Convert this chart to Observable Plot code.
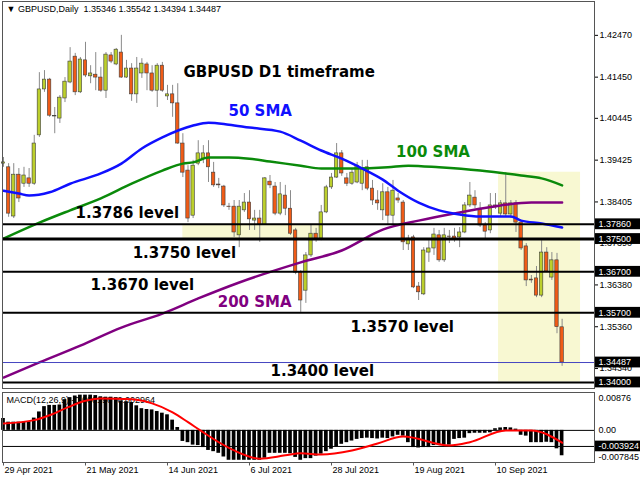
<!DOCTYPE html>
<html><head><meta charset="utf-8">
<script src="https://cdn.jsdelivr.net/npm/d3@7"></script>
<script src="https://cdn.jsdelivr.net/npm/@observablehq/plot@0.6"></script>
<style>
body{margin:0;background:#fff;}
#wrap{position:relative;width:640px;height:480px;overflow:hidden;background:#fff;}
#main{position:absolute;left:0;top:0;}
#macd{position:absolute;left:0;top:389px;}
</style></head><body><div id="wrap"><div id="main"></div><div id="macd"></div></div>
<script>
// ---- data ----
const tickIndex = [0,16,32,48,64,80,96];
const tickLabels = ["29 Apr 2021","21 May 2021","14 Jun 2021","6 Jul 2021","28 Jul 2021","19 Aug 2021","10 Sep 2021"];

const open = [1.3934,1.3925,1.3805,1.3907,1.3885,1.3898,1.3885,1.4003,1.4115,1.4139,
1.4049,1.4044,1.4093,1.4132,1.4195,1.4108,1.4186,1.4147,1.4151,1.4144,
1.4112,1.4198,1.4176,1.4205,1.4144,1.4166,1.4103,1.4154,1.4176,1.4154,
1.4112,1.4173,1.4098,1.4103,1.4081,1.3983,1.3917,1.3807,1.3934,1.3946,
1.3959,1.3912,1.3883,1.3878,1.3829,1.3829,1.3759,1.3820,1.3839,1.3795,
1.3800,1.3785,1.3890,1.3878,1.3812,1.3856,1.3824,1.3771,1.3668,1.3624,
1.3710,1.3763,1.3751,1.3815,1.3876,1.3900,1.3959,1.3898,1.3885,1.3888,
1.3885,1.3925,1.3873,1.3844,1.3820,1.3864,1.3807,1.3849,1.3839,1.3737,
1.3754,1.3634,1.3615,1.3717,1.3727,1.3759,1.3698,1.3756,1.3756,1.3754,
1.3766,1.3832,1.3851,1.3824,1.3783,1.3771,1.3827,1.3812,1.3837,1.3810,
1.3837,1.3790,1.3732,1.3651,1.3654,1.3612,1.3717,1.3656,1.3698,1.35346];
const high = [1.3949,1.3934,1.3934,1.3922,1.3925,1.3922,1.4003,1.4156,1.4161,1.4142,
1.4071,1.4100,1.4144,1.4217,1.4203,1.4193,1.4230,1.4173,1.4205,1.4169,
1.4205,1.4205,1.4215,1.4247,1.4186,1.4178,1.4193,1.4190,1.4181,1.4173,
1.4178,1.4181,1.4125,1.4125,1.4129,1.4007,1.3929,1.3942,1.3990,1.3978,
1.3990,1.3937,1.3898,1.3881,1.3837,1.3844,1.3844,1.3861,1.3868,1.3820,
1.3820,1.3900,1.3905,1.3888,1.3888,1.3881,1.3868,1.3776,1.3673,1.3717,
1.3783,1.3776,1.3832,1.3881,1.3910,1.3983,1.3966,1.3910,1.3922,1.3937,
1.3942,1.3942,1.3893,1.3868,1.3885,1.3876,1.3893,1.3861,1.3844,1.3759,
1.3759,1.3644,1.3729,1.3746,1.3776,1.3771,1.3776,1.3771,1.3776,1.3778,
1.3839,1.3888,1.3868,1.3839,1.3790,1.3861,1.3861,1.3844,1.3912,1.3844,
1.3844,1.3795,1.3739,1.3661,1.3683,1.3746,1.3729,1.3717,1.3715,1.35542];
const low = [1.3925,1.3803,1.3800,1.3839,1.3876,1.3876,1.3881,1.3998,1.4108,1.4047,
1.4007,1.4032,1.4083,1.4129,1.4100,1.4105,1.4144,1.4129,1.4112,1.4108,
1.4093,1.4178,1.4173,1.4142,1.4142,1.4086,1.4081,1.4142,1.4112,1.4108,
1.4071,1.4108,1.4088,1.4047,1.3981,1.3900,1.3790,1.3800,1.3929,1.3934,
1.3888,1.3876,1.3873,1.3827,1.3820,1.3754,1.3729,1.3815,1.3771,1.3771,
1.3742,1.3783,1.3873,1.3807,1.3807,1.3807,1.3759,1.3663,1.3571,1.3593,
1.3705,1.3742,1.3746,1.3812,1.3871,1.3898,1.3903,1.3878,1.3881,1.3885,
1.3868,1.3868,1.3832,1.3820,1.3795,1.3783,1.3783,1.3837,1.3722,1.3722,
1.3629,1.3600,1.3612,1.3693,1.3710,1.3693,1.3693,1.3739,1.3742,1.3729,
1.3763,1.3827,1.3824,1.3778,1.3751,1.3763,1.3822,1.3803,1.3803,1.3800,
1.3766,1.3722,1.3634,1.3642,1.3607,1.3607,1.3668,1.3649,1.3519,1.34394];
const close = [1.3937,1.3812,1.3907,1.3849,1.3905,1.3885,1.3983,1.4115,1.4139,1.4051,
1.4050,1.4095,1.4134,1.4183,1.4108,1.4188,1.4149,1.4154,1.4144,1.4112,
1.4200,1.4183,1.4212,1.4144,1.4166,1.4103,1.4166,1.4178,1.4154,1.4112,
1.4173,1.4112,1.4103,1.4081,1.3983,1.3912,1.3800,1.3929,1.3959,1.3959,
1.3925,1.3881,1.3881,1.3832,1.3828,1.3766,1.3829,1.3839,1.3798,1.3800,
1.3785,1.3898,1.3881,1.3812,1.3859,1.3824,1.3763,1.3668,1.3600,1.3710,
1.3763,1.3751,1.3815,1.3876,1.3900,1.3959,1.3910,1.3885,1.3912,1.3929,
1.3922,1.3873,1.3844,1.3837,1.3864,1.3807,1.3868,1.3844,1.3742,1.3751,
1.3632,1.3620,1.3722,1.3727,1.3761,1.3698,1.3759,1.3755,1.3749,1.3766,
1.3832,1.3856,1.3832,1.3783,1.3768,1.3832,1.3832,1.3837,1.3810,1.3837,
1.3790,1.3727,1.3649,1.3649,1.3612,1.3717,1.3671,1.3698,1.3535,1.34487];

// moving averages (bar index, price)
const sma50Idx = [0,3,5,9,13,19,23,27,31,37,40,44,48,54,58,62,66,70,74,77,81,85,89,93,99,101,105,109];
const sma50Val = [1.3868,1.3861,1.3856,1.3864,1.3885,1.3910,1.3934,1.3971,1.3998,1.4027,1.4034,1.4029,1.4022,1.4012,1.3990,1.3966,1.3946,1.3922,1.3895,1.3868,1.3839,1.3820,1.3810,1.3805,1.3805,1.3795,1.3788,1.3778];
const sma100Idx = [0,7,13,19,25,31,35,37,40,44,48,52,58,62,68,75,79,85,93,101,105,109];
const sma100Val = [1.3751,1.3790,1.3820,1.3849,1.3885,1.3917,1.3934,1.3937,1.3949,1.3949,1.3946,1.3939,1.3929,1.3922,1.3922,1.3925,1.3929,1.3925,1.3917,1.3905,1.3898,1.3881];
const sma200Idx = [0,7,15,23,31,38,46,58,66,74,81,89,97,103,109];
const sma200Val = [1.3412,1.3449,1.3490,1.3534,1.3568,1.3605,1.3644,1.3693,1.3722,1.3773,1.3795,1.3815,1.3832,1.3839,1.3839];

const levelValues = [1.3786,1.3750,1.3670,1.3570,1.3400];
const lastPrice = 1.34487;
const priceTicks = [1.4247,1.4145,1.40445,1.39425,1.38405,1.3739,1.3638,1.3536,1.3434];

const macdHist = [0.0029,0.0020,0.0020,0.0020,0.0020,0.0021,0.0030,0.0045,0.0058,0.0061,
0.0061,0.0062,0.0075,0.0080,0.0084,0.0086,0.0086,0.0086,0.0085,0.0082,
0.0081,0.0081,0.0080,0.0072,0.0070,0.0068,0.0060,0.0053,0.0051,0.0050,
0.0046,0.0042,0.0038,0.0025,0.0007,-0.0027,-0.0030,-0.0036,-0.0037,-0.0042,
-0.0049,-0.0052,-0.0056,-0.0065,-0.0073,-0.0073,-0.0073,-0.0073,-0.0073,-0.0073,
-0.0073,-0.0068,-0.0056,-0.0056,-0.0056,-0.0056,-0.0057,-0.0066,-0.0073,-0.0069,
-0.0069,-0.0063,-0.0058,-0.0052,-0.0046,-0.0040,-0.0034,-0.0030,-0.0026,-0.0022,
-0.0020,-0.0019,-0.0020,-0.0021,-0.0019,-0.0020,-0.0016,-0.0012,-0.0014,-0.0030,
-0.0042,-0.0043,-0.0042,-0.0042,-0.0037,-0.0037,-0.0036,-0.0036,-0.0022,-0.0020,
-0.0019,-0.0008,-0.0007,-0.0007,-0.0007,-0.0006,0.0004,0.0006,0.0007,0.0006,
0.0003,-0.0012,-0.0014,-0.0030,-0.0030,-0.0030,-0.0029,-0.0030,-0.0045,-0.0062];
const signalIdx = [0,6,9,12.5,15.6,19,25,29,33,36,38.4,42,45,50,55,58,62,68,73,78,87,91,98,103,109];
const signalVal = [0.0017,0.0025,0.0037,0.0056,0.0071,0.0078,0.0076,0.0066,0.0044,0.0020,0,-0.0029,-0.0049,-0.0069,-0.0061,-0.0056,-0.0059,-0.0049,-0.0032,-0.0015,-0.0037,-0.0029,0,0,-0.0030];
const macdLevels = [0, -0.003924];

// ---- derived tables ----
const candles = open.map((o,i)=>({i, o, h: high[i], l: low[i], c: close[i]}));
const sma50 = sma50Idx.map((i,k)=>({i, v: sma50Val[k]}));
const sma100 = sma100Idx.map((i,k)=>({i, v: sma100Val[k]}));
const sma200 = sma200Idx.map((i,k)=>({i, v: sma200Val[k]}));
const hist = macdHist.map((v,i)=>({i, v}));
const signal = signalIdx.map((i,k)=>({i, v: signalVal[k]}));

const bull = "#bccf2c", bear = "#f05b16";
const xDomain = [-0.195, 115.32];
const boxX1 = 115.5, boxX2 = 125, labX = 116.1;

const zones = [
  {x1: 35, x2: 62, y1: 1.3750, y2: 1.3786},
  {x1: 96.6, x2: 112.6, y1: 1.3401, y2: 1.3913}
];
const notes = [
  {t:"GBPUSD D1 timeframe", i:35.1, p:1.4156, c:"#000"},
  {t:"50 SMA", i:43.9, p:1.4061, c:"#1010ff"},
  {t:"100 SMA", i:76.6, p:1.3962, c:"#0a8a0a"},
  {t:"200 SMA", i:41.8, p:1.3595, c:"#800080"},
  {t:"1.3786 level", i:14.05, p:1.3812, c:"#000"},
  {t:"1.3750 level", i:25.2, p:1.3715, c:"#000"},
  {t:"1.3670 level", i:17, p:1.3637, c:"#000"},
  {t:"1.3570 level", i:67.7, p:1.3534, c:"#000"},
  {t:"1.3400 level", i:52.1, p:1.3427, c:"#000"}
];
const boxed = [...levelValues.slice(0,4), lastPrice, levelValues[4]];
const half = 0.00132;

const main = Plot.plot({
  width: 640, height: 389,
  marginTop: 1, marginBottom: 1, marginLeft: 2, marginRight: 46,
  style: {fontFamily: "'Liberation Sans', Arial, sans-serif", fontSize: "9px", color: "#000", background: "transparent"},
  x: {domain: xDomain, axis: null},
  y: {domain: [1.33853, 1.43296], axis: "right", ticks: priceTicks, tickFormat: d => d.toFixed(5), tickSize: 3, tickPadding: 2, label: null},
  marks: [
    Plot.rect(zones, {x1: "x1", x2: "x2", y1: "y1", y2: "y2", fill: "#f8f8d2"}),
    Plot.ruleX(candles, {x: "i", y1: "l", y2: "h", stroke: "#8a8a8a", strokeWidth: 1}),
    Plot.rect(candles, {x1: d => d.i - 0.33, x2: d => d.i + 0.33, y1: "o", y2: "c",
      fill: d => d.c >= d.o ? bull : bear, stroke: "#3c3c3c", strokeWidth: 0.6}),
    Plot.line(sma200, {x: "i", y: "v", stroke: "#800080", strokeWidth: 2.5, curve: "monotone-x"}),
    Plot.line(sma100, {x: "i", y: "v", stroke: "#0a8a0a", strokeWidth: 2.5, curve: "monotone-x"}),
    Plot.line(sma50, {x: "i", y: "v", stroke: "#1010ff", strokeWidth: 2.5, curve: "monotone-x"}),
    Plot.ruleY([lastPrice], {stroke: "#4646c0", strokeWidth: 1}),
    Plot.ruleY(levelValues, {stroke: "#000", strokeWidth: d => d === 1.3750 ? 3 : 2}),
    Plot.rect(boxed, {x1: () => boxX1, x2: () => boxX2, y1: d => d - half, y2: d => d + half, fill: "#000"}),
    Plot.text(boxed, {x: () => labX, y: d => d, text: d => d.toFixed(5), fill: "#fff", textAnchor: "start", fontSize: 9}),
    Plot.text(notes, {x: "i", y: "p", text: "t", fill: "c", textAnchor: "start",
      fontFamily: "'DejaVu Sans', sans-serif", fontWeight: "bold", fontSize: 15}),
    Plot.text(["\u25BC GBPUSD,Daily  1.35346 1.35542 1.34394 1.34487"], {frameAnchor: "top-left", dx: 4, dy: 4, text: d => d, fontSize: 9}),
    Plot.frame({stroke: "#555"})
  ]
});
document.getElementById("main").appendChild(main);

const macd = Plot.plot({
  width: 640, height: 91,
  marginTop: 3, marginBottom: 18, marginLeft: 2, marginRight: 46,
  style: {fontFamily: "'Liberation Sans', Arial, sans-serif", fontSize: "9px", color: "#000", background: "transparent"},
  x: {domain: xDomain, axis: null},
  y: {domain: [-0.007845, 0.00925], axis: null},
  marks: [
    Plot.text(["MACD(12,26,9) -0.006196 -0.002964"], {frameAnchor: "top-left", dx: 4, dy: 4, text: d => d, fontSize: 9}),
    Plot.rect(hist, {x1: d => d.i - 0.36, x2: d => d.i + 0.36, y1: () => 0, y2: "v", fill: "#000"}),
    Plot.ruleY(macdLevels, {stroke: "#000", strokeWidth: 1}),
    Plot.line(signal, {x: "i", y: "v", stroke: "#ff0000", strokeWidth: 2, curve: "monotone-x"}),
    Plot.rect([macdLevels[1]], {x1: () => boxX1, x2: () => boxX2, y1: d => d - 0.0013, y2: d => d + 0.0013, fill: "#000"}),
    Plot.text([macdLevels[1]], {x: () => labX, y: d => d, text: d => d.toFixed(6), fill: "#fff", textAnchor: "start", fontSize: 9}),
    Plot.text([0.00876], {x: () => labX, y: d => d, dy: 4, text: d => d.toFixed(5), textAnchor: "start", fontSize: 9}),
    Plot.text([0], {x: () => labX, y: d => d, text: () => "0.00", textAnchor: "start", fontSize: 9}),
    Plot.text([-0.007845], {x: () => labX, y: d => d, dy: -5, text: d => d.toFixed(6), textAnchor: "start", fontSize: 9}),
    Plot.ruleX(tickIndex, {x: d => d, y1: () => -0.007845, y2: () => -0.0087, stroke: "#555"}),
    Plot.text(tickIndex, {x: d => d, frameAnchor: "bottom", dy: 10, dx: 1, text: (d, k) => tickLabels[k], textAnchor: "start", fontSize: 9}),
    Plot.frame({stroke: "#555"})
  ]
});
document.getElementById("macd").appendChild(macd);
</script></body></html>
